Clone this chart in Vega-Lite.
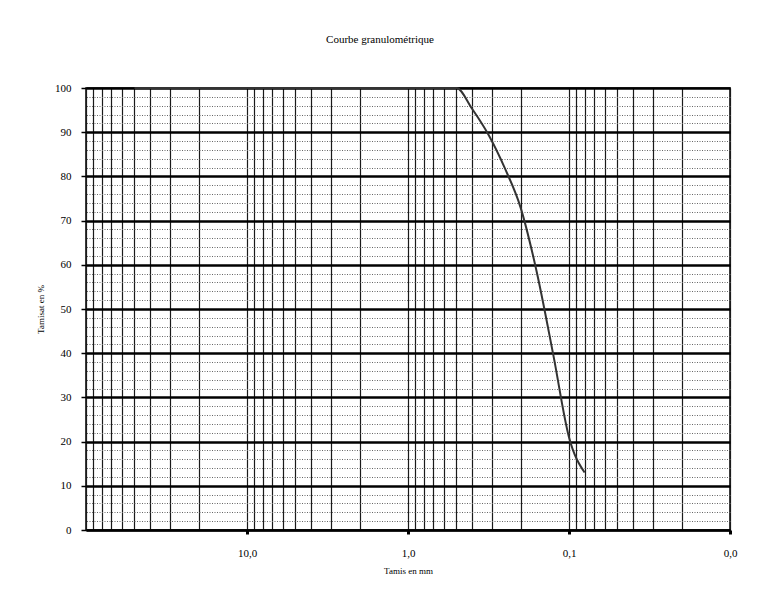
{
  "$schema": "https://vega.github.io/schema/vega-lite/v6.json",
  "width": 644,
  "height": 442,
  "autosize": "none",
  "padding": {"left": 86, "top": 88, "right": 27, "bottom": 64},
  "background": "white",
  "title": {
    "text": "Courbe granulométrique",
    "font": "Liberation Serif",
    "fontSize": 11,
    "fontWeight": "normal",
    "color": "black",
    "offset": 37,
    "dx": -28
  },
  "data": {
    "values": [
      {"d": 50, "p": 100},
      {"d": 20, "p": 100},
      {"d": 10, "p": 100},
      {"d": 5, "p": 100},
      {"d": 2, "p": 100},
      {"d": 1, "p": 100},
      {"d": 0.63, "p": 100},
      {"d": 0.5, "p": 100},
      {"d": 0.4, "p": 95.3},
      {"d": 0.315, "p": 89.3},
      {"d": 0.25, "p": 81.8},
      {"d": 0.2, "p": 73},
      {"d": 0.16, "p": 59},
      {"d": 0.125, "p": 39.5},
      {"d": 0.1, "p": 21},
      {"d": 0.08, "p": 13}
    ]
  },
  "mark": {"type": "line", "interpolate": "monotone", "stroke": "#333333", "strokeWidth": 2},
  "encoding": {
    "x": {
      "field": "d",
      "type": "quantitative",
      "scale": {"type": "log", "domain": [0.01, 100], "reverse": true, "nice": false},
      "axis": {
        "title": "Tamis en mm",
        "titleFont": "Liberation Serif",
        "titleFontSize": 9,
        "titleFontWeight": "normal",
        "titleColor": "black",
        "titlePadding": 8,
        "values": [100, 90, 80, 70, 60, 50, 40, 30, 20, 10, 9, 8, 7, 6, 5, 4, 3, 2, 1, 0.9, 0.8, 0.7, 0.6, 0.5, 0.4, 0.3, 0.2, 0.1, 0.09, 0.08, 0.07, 0.06, 0.05, 0.04, 0.03, 0.02, 0.01],
        "format": ".1f",
        "labelExpr": "(abs(log(datum.value)/LN10 - round(log(datum.value)/LN10)) < 0.001 && datum.value < 50) ? datum.label : ''",
        "labelFont": "Liberation Serif",
        "labelFontSize": 11,
        "labelColor": "black",
        "labelPadding": 13,
        "labelFlush": false,
        "labelOverlap": false,
        "grid": true,
        "gridColor": "#1a1a1a",
        "gridWidth": 1.2,
        "gridOpacity": 1,
        "domain": true,
        "domainColor": "black",
        "domainWidth": 2,
        "ticks": true,
        "tickSize": 4,
        "tickWidth": 3,
        "tickColor": {"condition": {"test": "abs(log(datum.value)/LN10 - round(log(datum.value)/LN10)) < 0.001 && datum.value < 50", "value": "black"}, "value": "transparent"}
      }
    },
    "y": {
      "field": "p",
      "type": "quantitative",
      "scale": {"domain": [0, 100], "nice": false},
      "axis": {
        "title": "Tamisat en %",
        "titleFont": "Liberation Serif",
        "titleFontSize": 9,
        "titleFontWeight": "normal",
        "titleColor": "black",
        "titlePadding": 9,
        "values": [0, 2, 4, 6, 8, 10, 12, 14, 16, 18, 20, 22, 24, 26, 28, 30, 32, 34, 36, 38, 40, 42, 44, 46, 48, 50, 52, 54, 56, 58, 60, 62, 64, 66, 68, 70, 72, 74, 76, 78, 80, 82, 84, 86, 88, 90, 92, 94, 96, 98, 100],
        "labelExpr": "datum.value % 10 === 0 ? datum.label : ''",
        "labelFont": "Liberation Serif",
        "labelFontSize": 11,
        "labelColor": "black",
        "labelPadding": 10,
        "labelFlush": false,
        "labelOverlap": false,
        "grid": true,
        "gridOpacity": 1,
        "gridColor": {"condition": {"test": "datum.value % 10 === 0", "value": "black"}, "value": "#666666"},
        "gridWidth": {"condition": {"test": "datum.value % 10 === 0", "value": 2.5}, "value": 1},
        "gridDash": {"condition": {"test": "datum.value % 10 === 0", "value": []}, "value": [1, 1.5]},
        "domain": false,
        "ticks": true,
        "tickSize": 5,
        "tickWidth": 1.5,
        "tickColor": {"condition": {"test": "datum.value % 10 === 0", "value": "black"}, "value": "transparent"}
      }
    }
  },
  "config": {
    "locale": {"number": {"decimal": ",", "thousands": ".", "grouping": [3], "currency": ["", " €"]}},
    "view": {"stroke": "black", "strokeWidth": 1.5}
  }
}
